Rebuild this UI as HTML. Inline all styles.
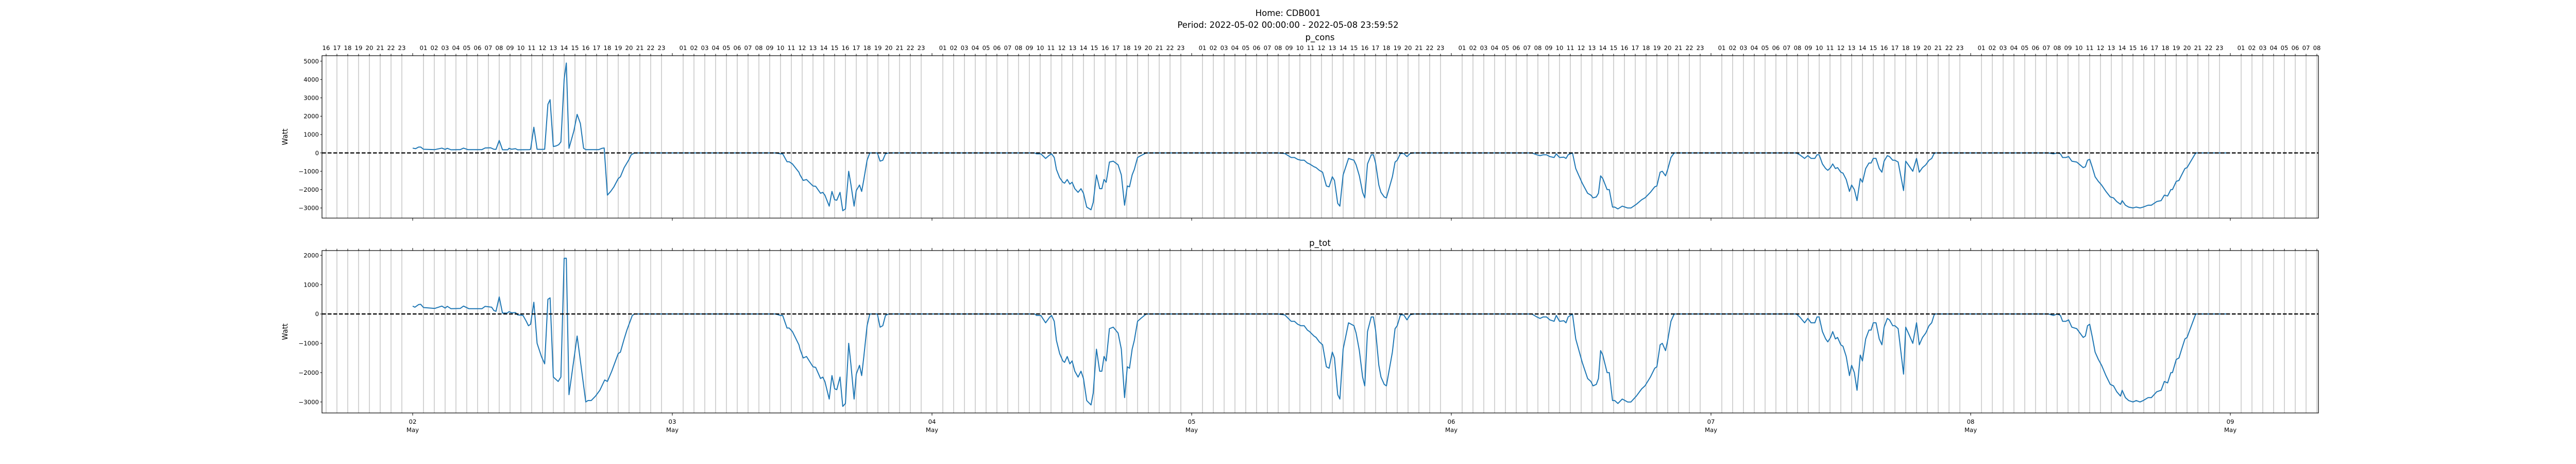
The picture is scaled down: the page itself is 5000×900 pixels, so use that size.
<!DOCTYPE html>
<html><head><meta charset="utf-8"><style>
html,body{margin:0;padding:0;background:#fff;}
svg{display:block;font-family:"DejaVu Sans","Liberation Sans",sans-serif;}
</style></head><body>
<svg id="chart" width="5000" height="900" xmlns="http://www.w3.org/2000/svg">
<text x="2500" y="31" text-anchor="middle" font-size="16.5">Home: CDB001</text>
<text x="2500" y="54" text-anchor="middle" font-size="16.5">Period: 2022-05-02 00:00:00 - 2022-05-08 23:59:52</text>
<text x="2562" y="78" text-anchor="middle" font-size="16.5">p_cons</text>
<text x="2562" y="477" text-anchor="middle" font-size="16.5">p_tot</text>
</svg>
<script>
// hours relative to start of each day, watt values
const consMay2 = [[0,260],[0.27,230],[0.55,320],[0.74,320],[1.0,200],[2.05,180],[2.7,260],[3.0,190],[3.2,250],[3.55,170],[4.4,180],[4.7,260],[5.1,180],[6.4,180],[6.7,270],[7.2,280],[7.5,200],[7.7,190],[8.0,680],[8.3,170],[8.8,170],[8.9,250],[9.15,200],[9.5,230],[9.7,170],[10.8,180],[10.9,200],[11.2,1400],[11.5,200],[11.9,190],[12.2,200],[12.5,2650],[12.7,2900],[13.0,350],[13.25,380],[13.5,450],[13.7,600],[14.0,4000],[14.2,4900],[14.45,250],[14.9,1200],[15.2,2100],[15.5,1600],[15.8,250],[16.0,180],[17.2,180],[17.5,250],[17.7,270],[18.0,-2300],[18.3,-2100],[18.6,-1850],[19.0,-1400],[19.2,-1300],[19.55,-800],[19.8,-550],[20.0,-350],[20.2,-100],[20.5,0],[24,0]];
const totMay2 = [[0,270],[0.2,230],[0.55,320],[0.74,330],[1.0,220],[2.05,190],[2.7,270],[3.0,200],[3.2,260],[3.55,180],[4.4,190],[4.7,270],[5.2,180],[6.4,180],[6.7,260],[7.3,230],[7.5,120],[7.7,90],[8.0,580],[8.3,30],[8.75,30],[8.9,80],[9.15,40],[9.5,50],[9.7,-30],[10.0,-40],[10.2,-50],[10.5,-250],[10.7,-400],[10.9,-350],[11.2,400],[11.5,-1000],[11.9,-1450],[12.2,-1700],[12.5,500],[12.7,550],[13.0,-2150],[13.45,-2300],[13.7,-2150],[14.0,1900],[14.2,1900],[14.45,-2750],[15.2,-750],[16.0,-3000],[16.2,-2950],[16.5,-2950],[16.9,-2800],[17.3,-2600],[17.75,-2250],[18.0,-2300],[18.4,-1950],[19.0,-1350],[19.2,-1300],[19.55,-850],[19.8,-550],[20.0,-350],[20.3,-50],[20.5,0],[24,0]];
const may3 = [[0,0],[9.55,0],[10.0,-50],[10.2,-50],[10.6,-480],[10.8,-480],[11.1,-600],[11.7,-1050],[11.8,-1200],[12.1,-1500],[12.4,-1450],[13.0,-1800],[13.25,-1820],[13.7,-2200],[13.9,-2150],[14.1,-2300],[14.5,-2900],[14.75,-2100],[15.0,-2550],[15.2,-2580],[15.5,-2150],[15.75,-3150],[16.0,-3050],[16.3,-1000],[16.5,-1700],[16.8,-2900],[17.0,-2050],[17.3,-1750],[17.5,-2100],[17.7,-1450],[18.0,-400],[18.25,0],[18.95,0],[19.2,-450],[19.45,-400],[19.7,-50],[20.0,0],[24,0]];
const may4 = [[0,0],[9.5,0],[9.66,-50],[10.06,-50],[10.5,-300],[10.9,-100],[11.05,-50],[11.3,-250],[11.5,-900],[11.8,-1350],[12.1,-1600],[12.25,-1650],[12.5,-1450],[12.74,-1700],[12.95,-1600],[13.2,-1950],[13.5,-2150],[13.77,-1950],[14.0,-2200],[14.3,-2950],[14.7,-3100],[14.9,-2700],[15.2,-1200],[15.5,-1950],[15.7,-1950],[15.9,-1450],[16.1,-1600],[16.4,-500],[16.75,-450],[17.2,-650],[17.5,-1200],[17.8,-2850],[18.05,-1800],[18.25,-1850],[18.5,-1200],[18.7,-900],[19.0,-250],[19.3,-150],[19.8,0],[24,0]];
const may5 = [[0,0],[7.98,0],[8.6,-30],[9.2,-250],[9.5,-250],[9.8,-350],[10.1,-400],[10.4,-400],[10.7,-550],[10.9,-600],[11.3,-750],[11.5,-800],[11.8,-950],[12.1,-1050],[12.45,-1800],[12.7,-1850],[13.0,-1300],[13.2,-1500],[13.5,-2750],[13.7,-2900],[14.0,-1200],[14.5,-300],[15.0,-400],[15.2,-650],[15.5,-1250],[15.8,-2150],[16.0,-2450],[16.25,-600],[16.6,-100],[16.8,-100],[17.0,-550],[17.3,-1750],[17.5,-2150],[17.8,-2400],[18.0,-2450],[18.55,-1300],[18.8,-500],[19.0,-400],[19.3,-30],[19.6,-30],[19.9,-200],[20.2,-30],[20.5,0],[24,0]];
const may6 = [[0,0],[7.44,0],[7.9,-100],[8.2,-150],[8.5,-100],[8.8,-100],[9.1,-200],[9.5,-250],[9.7,-50],[10.0,-250],[10.4,-230],[10.6,-300],[10.8,-100],[11.2,0],[11.5,-850],[11.8,-1250],[12.1,-1650],[12.6,-2200],[12.9,-2300],[13.1,-2450],[13.4,-2400],[13.6,-2200],[13.8,-1250],[14.0,-1400],[14.4,-2000],[14.6,-2000],[14.9,-2950],[15.1,-2950],[15.4,-3050],[15.8,-2900],[16.3,-3000],[16.6,-3000],[17.1,-2800],[17.6,-2550],[17.9,-2450],[18.4,-2150],[18.8,-1850],[19.0,-1800],[19.3,-1050],[19.5,-1000],[19.8,-1250],[20.0,-900],[20.3,-250],[20.6,0],[24,0]];
const may7 = [[0,0],[7.9,0],[8.2,-100],[8.65,-300],[8.95,-150],[9.25,-300],[9.6,-300],[9.8,-100],[10.0,-100],[10.3,-600],[10.6,-850],[10.8,-950],[11.05,-800],[11.25,-600],[11.5,-850],[11.7,-800],[12.0,-1050],[12.2,-1100],[12.5,-1450],[12.8,-2100],[13.0,-1750],[13.25,-2000],[13.5,-2600],[13.8,-1400],[14.0,-1600],[14.3,-850],[14.6,-550],[14.8,-550],[15.0,-300],[15.25,-300],[15.55,-850],[15.8,-1050],[16.0,-450],[16.3,-150],[16.5,-200],[16.8,-400],[17.0,-400],[17.3,-500],[17.8,-2050],[18.0,-450],[18.3,-700],[18.65,-1000],[19.0,-300],[19.25,-1050],[19.55,-800],[19.85,-650],[20.15,-400],[20.4,-300],[20.65,0],[24,0]];
const may8 = [[0,0],[7.2,0],[7.65,-50],[8.0,0],[8.3,-50],[8.5,-250],[8.8,-250],[9.05,-200],[9.35,-450],[9.8,-500],[10.1,-650],[10.4,-800],[10.6,-750],[10.8,-400],[11.0,-350],[11.25,-800],[11.5,-1300],[11.8,-1550],[12.1,-1750],[12.5,-2100],[12.9,-2400],[13.2,-2450],[13.5,-2650],[13.85,-2800],[14.0,-2600],[14.3,-2850],[14.6,-2950],[15.0,-3000],[15.3,-2950],[15.65,-3000],[15.95,-2950],[16.4,-2850],[16.7,-2850],[17.2,-2650],[17.6,-2600],[17.9,-2300],[18.2,-2350],[18.5,-2000],[18.65,-2000],[19.0,-1550],[19.25,-1500],[19.5,-1200],[19.8,-850],[20.0,-800],[20.25,-550],[20.6,-200],[20.8,0],[23.98,0]];
const dayLabels = ["02","03","04","05","06","07","08","09"];
const topYTicks = [-3000,-2000,-1000,0,1000,2000,3000,4000,5000];
const botYTicks = [-3000,-2000,-1000,0,1000,2000];

const NS = "http://www.w3.org/2000/svg";
const svg = document.getElementById("chart");
const X0 = 625, X1 = 4500, hMin = -8.38, hMax = 176.14;
function xs(h){ return X0 + (h - hMin) * (X1 - X0) / (hMax - hMin); }
const panels = [
  {name:"top", top:108, bottom:423, vMin:-3551, vMax:5298, ticks:topYTicks, label:true},
  {name:"bottom", top:486, bottom:801, vMin:-3374, vMax:2162, ticks:botYTicks, label:false}
];
function mk(tag, attrs, parent){ const e = document.createElementNS(NS, tag); for (const k in attrs) e.setAttribute(k, attrs[k]); (parent||svg).appendChild(e); return e; }

function build(parts){
  const pts = [];
  parts.forEach((d, i) => d.forEach(p => pts.push([i*24 + p[0], p[1]])));
  return pts;
}
const consSeries = build([consMay2, may3, may4, may5, may6, may7, may8]);
const totSeries = build([totMay2, may3, may4, may5, may6, may7, may8]);

panels.forEach((P, pi) => {
  const ys = v => P.bottom - (v - P.vMin) * (P.bottom - P.top) / (P.vMax - P.vMin);
  const g = mk("g", {});
  
  
  // hour grid & ticks
  for (let h = Math.ceil(hMin); h <= hMax; h++) {
    const x = xs(h);
    const hr = ((h % 24) + 24) % 24;
    if (hr !== 0) {
      const gl = mk("line", {x1:x, x2:x, y1:P.top, y2:P.bottom, stroke:"#b0b0b0", "stroke-width":1.1}, g);
      
      
    }
    const tk = mk("line", {x1:x, x2:x, y1:P.top, y2:P.top - (hr === 0 ? 5 : 3.5), stroke:"#000", "stroke-width":1}, g);
    
    
    if (P.label && hr !== 0) {
      const t = mk("text", {x:x, y:97, "text-anchor":"middle", "font-size":11.7}, g);
      
      
      t.textContent = String(hr).padStart(2, "0");
    }
  }
  // day ticks at bottom
  dayLabels.forEach((lab, i) => {
    const x = xs(i*24);
    const tk = mk("line", {x1:x, x2:x, y1:P.bottom, y2:P.bottom + 5, stroke:"#000", "stroke-width":1}, g);
    
    
    if (!P.label) {
      const t1 = mk("text", {x:x, y:822, "text-anchor":"middle", "font-size":11.7}, g);
      
      
      t1.textContent = lab;
      const t2 = mk("text", {x:x, y:838, "text-anchor":"middle", "font-size":11.7}, g);
      
      
      t2.textContent = "May";
    }
  });
  // y ticks
  P.ticks.forEach(v => {
    const y = ys(v);
    const tk = mk("line", {x1:X0, x2:X0 - 3.5, y1:y, y2:y, stroke:"#000", "stroke-width":1}, g);
    
    
    const t = mk("text", {x:X0 - 6, y:y + 4.2, "text-anchor":"end", "font-size":11.7}, g);
    
    
    t.textContent = v < 0 ? "\u2212" + Math.abs(v) : String(v);
  });
  const yl = mk("text", {x:0, y:0, "text-anchor":"middle", "font-size":13.9, transform:`translate(558,${(P.top+P.bottom)/2}) rotate(-90)`}, g);
  
  
  yl.textContent = "Watt";
  // series
  const series = pi === 0 ? consSeries : totSeries;
  const d = series.map((p, i) => (i ? "L" : "M") + xs(p[0]).toFixed(1) + " " + ys(p[1]).toFixed(1)).join(" ");
  const line = mk("path", {d:d, fill:"none", stroke:"#1f77b4", "stroke-width":2, "stroke-linejoin":"round"}, g);
  
  
  const z = ys(0);
  const zl = mk("line", {x1:X0, x2:X1, y1:z, y2:z, stroke:"#000", "stroke-width":2.2, "stroke-dasharray":"7.5,3.5"}, g);
  
  
  const fr = mk("rect", {x:X0, y:P.top, width:X1 - X0, height:P.bottom - P.top, fill:"none", stroke:"#000", "stroke-width":1.2}, g);
  
  
});
</script>
</body></html>
